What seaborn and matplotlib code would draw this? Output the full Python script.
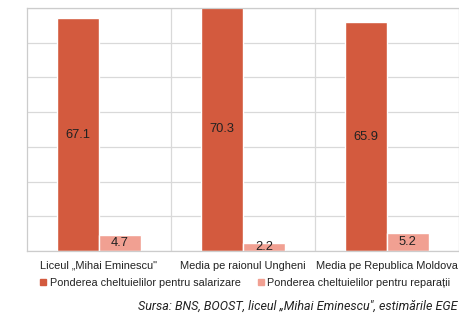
import pandas as pd
import seaborn as sns
import matplotlib.pyplot as plt
from matplotlib.patches import Patch

categories = ["Liceul „Mihai Eminescu\"", "Media pe raionul Ungheni", "Media pe Republica Moldova"]
series = ["Ponderea cheltuielilor pentru salarizare", "Ponderea cheltuielilor pentru reparații"]
salary = [67.1, 70.3, 65.9]
repairs = [4.7, 2.2, 5.2]
colors = ["#D35A3E", "#F1A092"]
source = "Sursa: BNS, BOOST, liceul „Mihai Eminescu\", estimările EGE"

df = pd.DataFrame({
    "cat": categories * 2,
    "serie": [series[0]] * 3 + [series[1]] * 3,
    "val": salary + repairs,
})

sns.set_style("white")
plt.rcParams["font.family"] = ["Liberation Sans", "DejaVu Sans"]

fig = plt.figure(figsize=(4.59, 3.15), dpi=100)
ax = fig.add_axes([27 / 459, 64 / 315, 432 / 459, 243 / 315])

sns.barplot(data=df, x="cat", y="val", hue="serie", palette=colors,
            width=0.58, saturation=1, ax=ax, legend=False)

ax.set_ylim(0, 70)
ax.set_xlim(-0.5, 2.5)
ax.set_yticks(range(0, 71, 10))
ax.set_yticklabels([])
ax.tick_params(axis="y", length=0)
ax.tick_params(axis="x", length=0, labelsize=7.9, pad=7, colors="#222222")
ax.grid(axis="y", color="#d9d9d9", linewidth=0.9)
ax.set_axisbelow(True)
for x in [0.5, 1.5]:
    ax.axvline(x, color="#d9d9d9", linewidth=0.9, zorder=0)
for s in ax.spines.values():
    s.set_color("#cccccc")
    s.set_linewidth(0.9)
ax.set_xlabel("")
ax.set_ylabel("")

# value labels, centred in each bar
for c in ax.containers:
    for bar in c:
        h = bar.get_height()
        cx = bar.get_x() + bar.get_width() / 2
        ax.text(cx, min(h, 70) / 2, f"{h:.1f}", ha="center", va="center",
                fontsize=9.3, color="#222222")

handles = [Patch(color=colors[0]), Patch(color=colors[1])]
fig.legend(handles, series, loc="center left", bbox_to_anchor=(36 / 459, 1 - 283 / 315),
           ncol=2, frameon=False, fontsize=7.8, handlelength=0.55, handleheight=0.55,
           handletextpad=0.3, columnspacing=1.6, borderaxespad=0, labelcolor="#222222")

fig.text(457 / 459, 1 - 306 / 315, source, ha="right", va="center", fontsize=9,
         style="italic", family=["Roboto", "DejaVu Sans"], color="#222222")

fig.savefig("out.png", dpi=100)
